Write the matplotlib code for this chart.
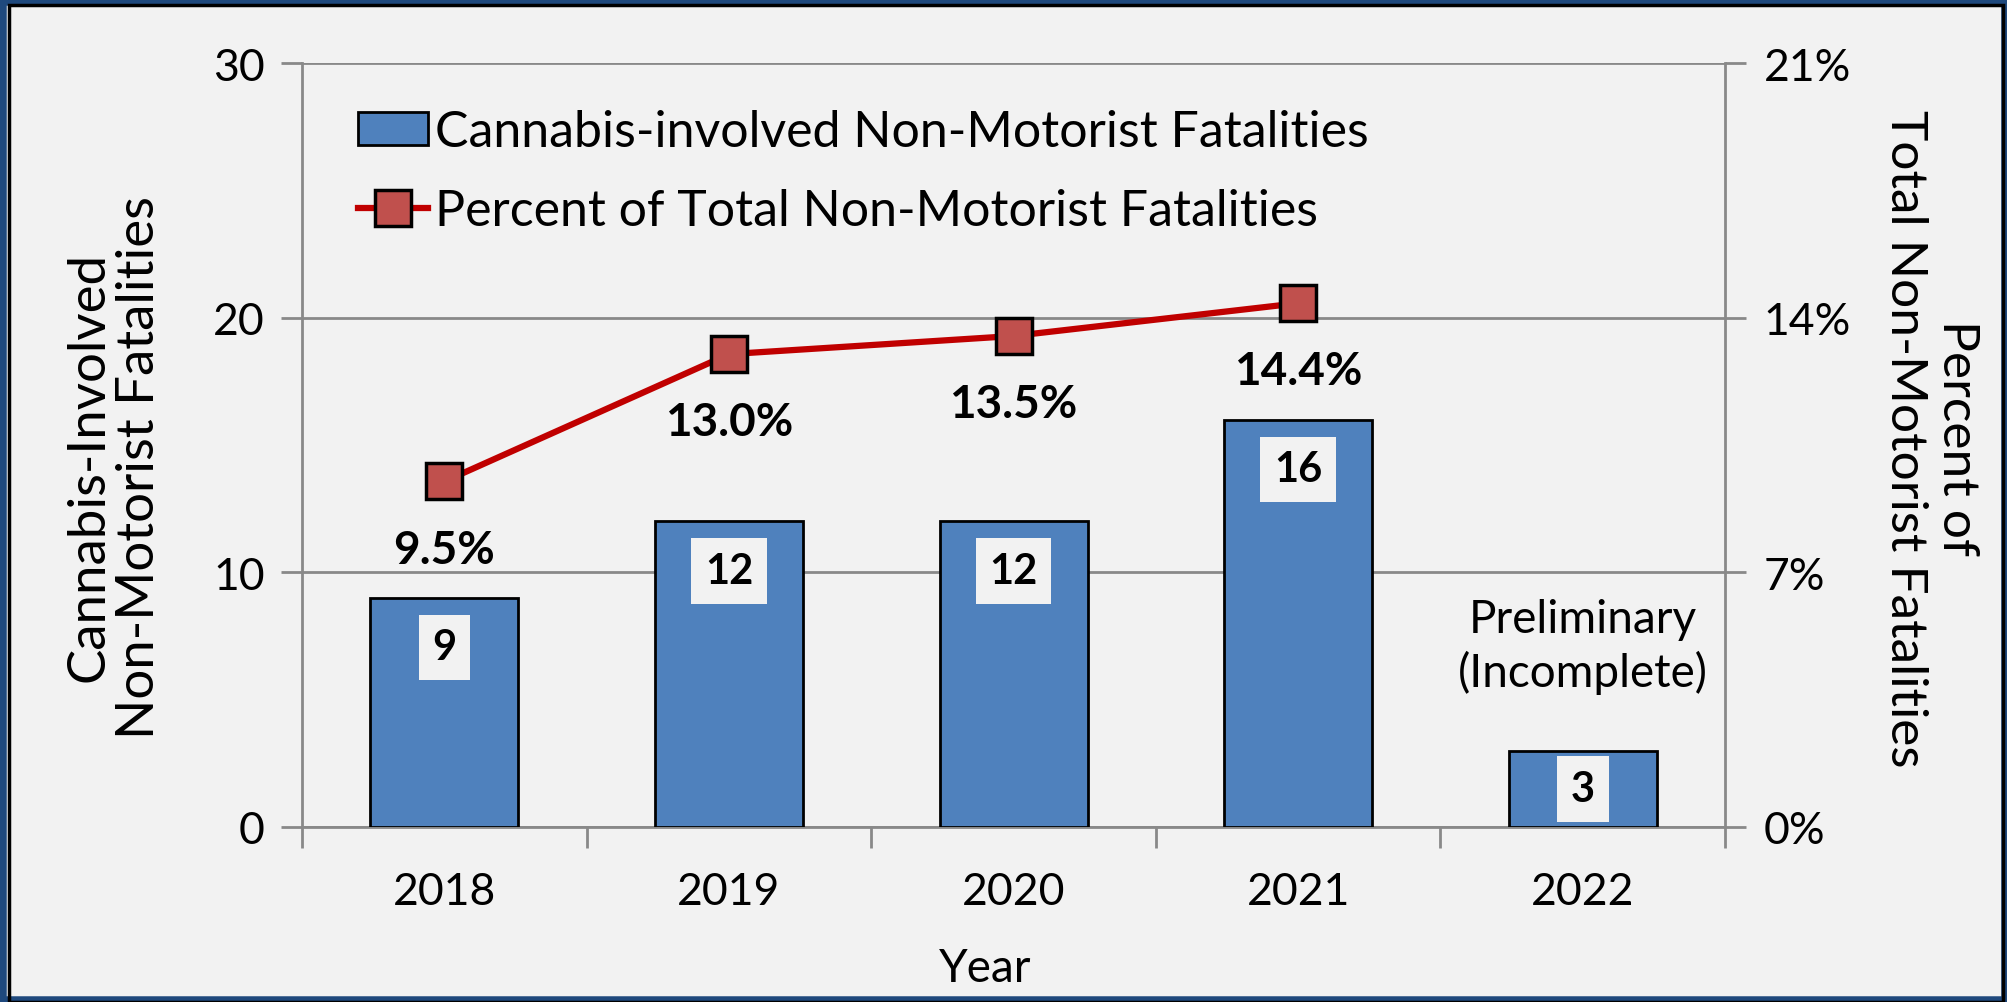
import matplotlib.pyplot as plt
from matplotlib.patches import Rectangle

years = ['2018', '2019', '2020', '2021', '2022']
fatalities = [9, 12, 12, 16, 3]
pct_years = ['2018', '2019', '2020', '2021']
percent = [9.5, 13.0, 13.5, 14.4]

plt.rcParams['font.family'] = ['Lato', 'DejaVu Sans']
bg = '#f2f2f2'
grey = '#898989'

fig = plt.figure(figsize=(20.07, 10.03), dpi=100, facecolor=bg)
# frame around the picture
fig.patches.append(Rectangle((0, 0), 1, 1, transform=fig.transFigure, fill=False,
                             edgecolor='#1f497d', linewidth=9, zorder=0))
fig.patches.append(Rectangle((0.0045, 0.0), 0.9935, 0.994, transform=fig.transFigure, fill=False,
                             edgecolor='black', linewidth=2.5, zorder=1))

ax = fig.add_axes([0.1505, 0.1745, 0.709, 0.7615])
ax.set_facecolor(bg)
x = list(range(len(years)))
bars = ax.bar(x, fatalities, width=0.52, color='#4f81bd', edgecolor='black', linewidth=2, zorder=3,
              label='Cannabis-involved Non-Motorist Fatalities')
ax.set_ylim(0, 30)
ax.set_xlim(-0.5, 4.5)
ax.set_yticks([0, 10, 20, 30])
ax.yaxis.grid(True, color=grey, linewidth=2, zorder=0)
ax.set_axisbelow(True)
ax.set_xticks(x)
ax.set_xticklabels(years)
ax.tick_params(axis='x', length=0, labelsize=32, pad=32)
ax.set_xticks([i - 0.5 for i in range(len(years) + 1)], minor=True)
ax.tick_params(axis='x', which='minor', length=15, width=2, color=grey)
ax.tick_params(axis='y', length=15, width=2, color=grey, labelsize=32, pad=12)
for s in ['left', 'bottom', 'right']:
    ax.spines[s].set_color(grey)
    ax.spines[s].set_linewidth(2)
ax.spines['top'].set_visible(False)

for xi, v in zip(x, fatalities):
    off = 1.95 if v > 5 else 1.5
    ax.text(xi, v - off, str(v), ha='center', va='center', fontsize=30, fontweight='bold', zorder=5,
            bbox=dict(boxstyle='square,pad=0.33', facecolor=bg, edgecolor='none'))

ax.text(4, 7.1, 'Preliminary\n(Incomplete)', ha='center', va='center', fontsize=33, linespacing=1.28)

ax2 = ax.twinx()
ax2.set_ylim(0, 21)
ax2.set_yticks([0, 7, 14, 21])
ax2.set_yticklabels(['0%', '7%', '14%', '21%'])
ax2.tick_params(axis='y', length=15, width=2, color=grey, labelsize=32, pad=13)
for s in ['left', 'bottom', 'right', 'top']:
    ax2.spines[s].set_visible(False)
px = [years.index(y) for y in pct_years]
line, = ax2.plot(px, percent, color='#c00000', linewidth=4.5, marker='s', markersize=26,
                 markerfacecolor='#c0504d', markeredgecolor='black', markeredgewidth=2.5, zorder=4,
                 label='Percent of Total Non-Motorist Fatalities')
for xi, p in zip(px, percent):
    ax2.annotate('%.1f%%' % p, (xi, p), xytext=(0, -49), textcoords='offset points',
                 ha='center', va='center', fontsize=33, fontweight='bold')

ax.legend(handles=[bars, line], loc='upper left', bbox_to_anchor=(0.039, 0.94), frameon=False,
          fontsize=36, handlelength=1.4, handleheight=0.65, handletextpad=0.15, labelspacing=0.66,
          borderpad=0, borderaxespad=0)

fig.text(0.057, 0.534, 'Cannabis-Involved\nNon-Motorist Fatalities', rotation=90, ha='center',
         va='center', fontsize=38, linespacing=1.1)
fig.text(0.962, 0.563, 'Percent of\nTotal Non-Motorist Fatalities', rotation=270, ha='center',
         va='center', fontsize=37, linespacing=1.15)
fig.text(0.491, 0.034, 'Year', ha='center', va='center', fontsize=33)

fig.savefig('out.png', dpi=100, facecolor=bg)
